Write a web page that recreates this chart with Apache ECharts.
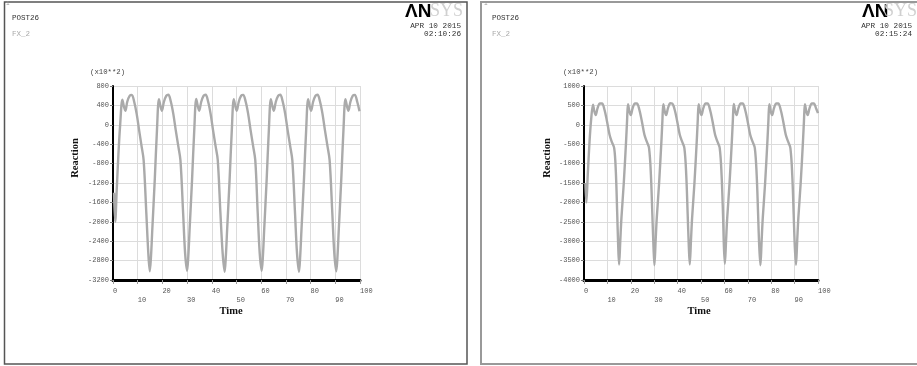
<!DOCTYPE html>
<html>
<head>
<meta charset="utf-8">
<script src="https://cdn.jsdelivr.net/npm/echarts@6/dist/echarts.min.js"></script>
<style>
html, body { margin: 0; padding: 0; background: #fff; }
#main { width: 917px; height: 366px; }
</style>
</head>
<body>
<div id="main"></div>
<script>
/**
 * 数据 (x10**2)
 */
var timeMin = 0, timeMax = 100, timeStep = 10;

// 左图 02:10:26
var leftYMin = -3200, leftYMax = 800, leftYStep = 400;
var leftTime = [
    0.4, 0.9, 1.5, 2.2, 2.9, 3.8, 4.4, 5.0, 5.8, 6.8, 7.6, 8.6, 9.6, 10.6, 11.5, 12.4, 13.5, 14.3, 14.9,
    15.4, 15.9, 16.9, 17.8, 18.6, 19.2, 19.8, 20.6, 21.6, 22.4, 23.4, 24.4, 25.4, 26.4, 27.3, 28.4, 29.2, 30.0,
    30.5, 31.0, 32.0, 32.9, 33.7, 34.3, 34.9, 35.7, 36.7, 37.5, 38.5, 39.5, 40.5, 41.5, 42.4, 43.5, 44.4, 45.2,
    45.7, 46.2, 47.2, 48.1, 48.9, 49.5, 50.1, 50.9, 51.9, 52.7, 53.7, 54.7, 55.7, 56.7, 57.6, 58.6, 59.4, 60.2,
    60.7, 61.2, 62.2, 63.1, 63.9, 64.5, 65.1, 65.9, 66.9, 67.7, 68.7, 69.7, 70.7, 71.7, 72.6, 73.7, 74.5, 75.3,
    75.8, 76.3, 77.3, 78.2, 79.0, 79.6, 80.2, 81.0, 82.0, 82.8, 83.8, 84.8, 85.8, 86.8, 87.7, 88.8, 89.6, 90.4,
    90.9, 91.4, 92.4, 93.3, 94.1, 94.7, 95.3, 96.1, 97.1, 97.9, 98.9, 99.8
];
var leftReaction = [
    -1400, -2000, -1350, -600, 0, 520, 380, 290, 480, 600, 615, 470, 220, -120, -420, -730, -1830, -2650, -3020,
    -2700, -2170, -1140, -110, 530, 390, 290, 470, 600, 620, 480, 230, -110, -430, -730, -1830, -2650, -3010,
    -2700, -2170, -1140, -110, 535, 390, 290, 470, 600, 620, 480, 230, -110, -430, -720, -1830, -2650, -3030,
    -2700, -2170, -1140, -110, 530, 390, 290, 470, 600, 615, 480, 230, -110, -430, -730, -1830, -2650, -3010,
    -2700, -2170, -1140, -110, 530, 390, 290, 470, 600, 620, 480, 230, -110, -430, -730, -1830, -2650, -3030,
    -2700, -2170, -1140, -110, 530, 390, 290, 470, 600, 620, 480, 230, -110, -430, -730, -1830, -2650, -3020,
    -2700, -2170, -1140, -110, 530, 390, 290, 470, 600, 615, 470, 280
];

// 右图 02:15:24
var rightYMin = -4000, rightYMax = 1000, rightYStep = 500;
var rightTime = [
    0.6, 1.0, 1.6, 2.3, 3.0, 3.85, 4.4, 5.0, 5.8, 6.8, 7.7, 8.7, 9.8, 10.9, 11.8, 12.9, 13.6, 14.2, 14.6, 15.0,
    15.5, 16.0, 17.0, 18.0, 18.4, 18.8, 19.4, 20.0, 20.8, 21.8, 22.6, 23.6, 24.7, 25.8, 26.8, 27.8, 28.6, 29.2, 29.7, 30.1,
    30.6, 31.1, 32.1, 33.1, 33.5, 33.9, 34.5, 35.1, 35.9, 36.9, 37.7, 38.7, 39.8, 40.9, 41.9, 42.9, 43.7, 44.3, 44.8, 45.2,
    45.7, 46.2, 47.2, 48.2, 48.6, 49.0, 49.6, 50.2, 51.0, 52.0, 52.8, 53.8, 54.9, 56.0, 57.0, 58.0, 58.8, 59.4, 59.8, 60.2,
    60.7, 61.2, 62.2, 63.2, 63.6, 64.0, 64.6, 65.2, 66.0, 67.0, 67.8, 68.8, 69.9, 71.0, 72.0, 73.0, 73.8, 74.4, 74.9, 75.4,
    75.9, 76.4, 77.4, 78.4, 78.8, 79.2, 79.8, 80.4, 81.2, 82.2, 83.0, 84.0, 85.1, 86.2, 87.2, 88.2, 89.0, 89.6, 90.1, 90.6,
    91.1, 91.6, 92.6, 93.6, 94.0, 94.4, 95.0, 95.6, 96.4, 97.4, 98.2, 99.2, 100
];
var rightReaction = [
    -1500, -2000, -1300, -500, 100, 520, 350, 250, 430, 550, 550, 400, 100, -250, -430, -600, -1200, -2300, -3100, -3600,
    -3000, -2400, -1500, -400, 100, 530, 350, 250, 430, 550, 550, 400, 100, -250, -430, -600, -1300, -2300, -3150, -3620,
    -3000, -2400, -1500, -400, 100, 530, 350, 250, 430, 555, 550, 400, 100, -250, -430, -600, -1300, -2300, -3150, -3600,
    -3000, -2400, -1500, -400, 100, 530, 350, 250, 430, 550, 550, 400, 100, -250, -430, -600, -1300, -2300, -3150, -3580,
    -3000, -2400, -1500, -400, 100, 535, 350, 250, 430, 550, 550, 400, 100, -250, -430, -600, -1300, -2300, -3150, -3620,
    -3000, -2400, -1500, -400, 100, 530, 350, 250, 430, 550, 550, 400, 100, -250, -430, -600, -1300, -2300, -3150, -3610,
    -3000, -2400, -1500, -400, 100, 530, 350, 250, 430, 550, 550, 420, 300
];

var MONO = '"Liberation Mono", "DejaVu Sans Mono", monospace';
var SERIF = '"Liberation Serif", "DejaVu Serif", serif';

function toPairs(xs, ys) {
    var out = [];
    for (var i = 0; i < xs.length; i++) {
        out.push([xs[i], ys[i]]);
    }
    return out;
}

function xAxisFor(gridIndex) {
    return {
        type: 'value',
        gridIndex: gridIndex,
        min: timeMin,
        max: timeMax,
        interval: timeStep,
        axisLine: { show: true, onZero: false, lineStyle: { color: '#000', width: 3 } },
        axisTick: { show: true, length: 4, lineStyle: { color: '#999' } },
        axisLabel: {
            margin: 6,
            align: 'left',
            color: '#555',
            fontFamily: MONO,
            fontSize: 7,
            lineHeight: 9.5,
            formatter: function (v) {
                return (v % 20 === 0) ? String(v) : '\n' + v;
            }
        },
        splitLine: { show: true, lineStyle: { color: '#dcdcdc', width: 1 } }
    };
}

function yAxisFor(gridIndex, min, max, step) {
    return {
        type: 'value',
        gridIndex: gridIndex,
        min: min,
        max: max,
        interval: step,
        axisLine: { show: true, onZero: false, lineStyle: { color: '#000', width: 2 } },
        axisTick: { show: true, length: 3, lineStyle: { color: '#777' } },
        axisLabel: {
            margin: 4,
            color: '#555',
            fontFamily: MONO,
            fontSize: 7,
            formatter: function (v) {
                return String(v);
            }
        },
        splitLine: { show: true, lineStyle: { color: '#dcdcdc', width: 1 } }
    };
}

function text(x, y, str, font, fill, align) {
    return {
        type: 'text',
        x: x,
        y: y,
        style: { text: str, font: font, fill: fill, align: align || 'left', verticalAlign: 'top' }
    };
}

function rotText(x, y, str, font) {
    return {
        type: 'text',
        x: x,
        y: y,
        rotation: Math.PI / 2,
        style: { text: str, font: font, fill: '#111', align: 'center', verticalAlign: 'middle' }
    };
}

var chart = echarts.init(document.getElementById('main'));

var option = {
    animation: false,
    backgroundColor: '#fff',
    grid: [
        { left: 113, top: 86, width: 247, height: 194 },
        { left: 584, top: 86, width: 234, height: 194 }
    ],
    xAxis: [xAxisFor(0), xAxisFor(1)],
    yAxis: [
        yAxisFor(0, leftYMin, leftYMax, leftYStep),
        yAxisFor(1, rightYMin, rightYMax, rightYStep)
    ],
    series: [
        {
            name: 'FX_2',
            type: 'line',
            xAxisIndex: 0,
            yAxisIndex: 0,
            data: toPairs(leftTime, leftReaction),
            showSymbol: false,
            smooth: 0.35,
            lineStyle: { color: '#aaaaaa', width: 2.4 }
        },
        {
            name: 'FX_2',
            type: 'line',
            xAxisIndex: 1,
            yAxisIndex: 1,
            data: toPairs(rightTime, rightReaction),
            showSymbol: false,
            smooth: 0.35,
            lineStyle: { color: '#aaaaaa', width: 2.4 }
        }
    ],
    graphic: [
        // 边框
        { type: 'rect', shape: { x: 4.5, y: 2, width: 462.5, height: 362 }, style: { fill: 'none', stroke: '#555', lineWidth: 1.5 } },
        { type: 'rect', shape: { x: 481, y: 2, width: 445, height: 362 }, style: { fill: 'none', stroke: '#999', lineWidth: 2 } },

        // 左图文字
        text(6, 0, '1', '6px ' + MONO, '#999'),
        text(12, 14, 'POST26', '7.5px ' + MONO, '#333'),
        text(12, 30, 'FX_2', '7.5px ' + MONO, '#aaa'),
        text(405, 2, '\u039BN', 'bold 19px "Liberation Sans", Arial, sans-serif', '#000'),
        text(430, 2, 'SYS', '18px ' + SERIF, '#d0d0d0'),
        text(461, 22, 'APR 10 2015', '7.7px ' + MONO, '#333', 'right'),
        text(461, 30, '02:10:26', '7.7px ' + MONO, '#333', 'right'),
        text(90, 69, '(x10**2)', '7.3px ' + MONO, '#444'),
        rotText(75, 158, 'Reaction', 'bold 10.5px ' + SERIF),
        text(231, 306, 'Time', 'bold 10.5px ' + SERIF, '#111', 'center'),

        // 右图文字
        text(484, 0, '1', '6px ' + MONO, '#999'),
        text(492, 14, 'POST26', '7.5px ' + MONO, '#333'),
        text(492, 30, 'FX_2', '7.5px ' + MONO, '#aaa'),
        text(862, 2, '\u039BN', 'bold 19px "Liberation Sans", Arial, sans-serif', '#000'),
        text(884, 2, 'SYS', '18px ' + SERIF, '#d0d0d0'),
        text(912, 22, 'APR 10 2015', '7.7px ' + MONO, '#333', 'right'),
        text(912, 30, '02:15:24', '7.7px ' + MONO, '#333', 'right'),
        text(563, 69, '(x10**2)', '7.3px ' + MONO, '#444'),
        rotText(547, 158, 'Reaction', 'bold 10.5px ' + SERIF),
        text(699, 306, 'Time', 'bold 10.5px ' + SERIF, '#111', 'center')
    ]
};

chart.setOption(option);
</script>
</body>
</html>
